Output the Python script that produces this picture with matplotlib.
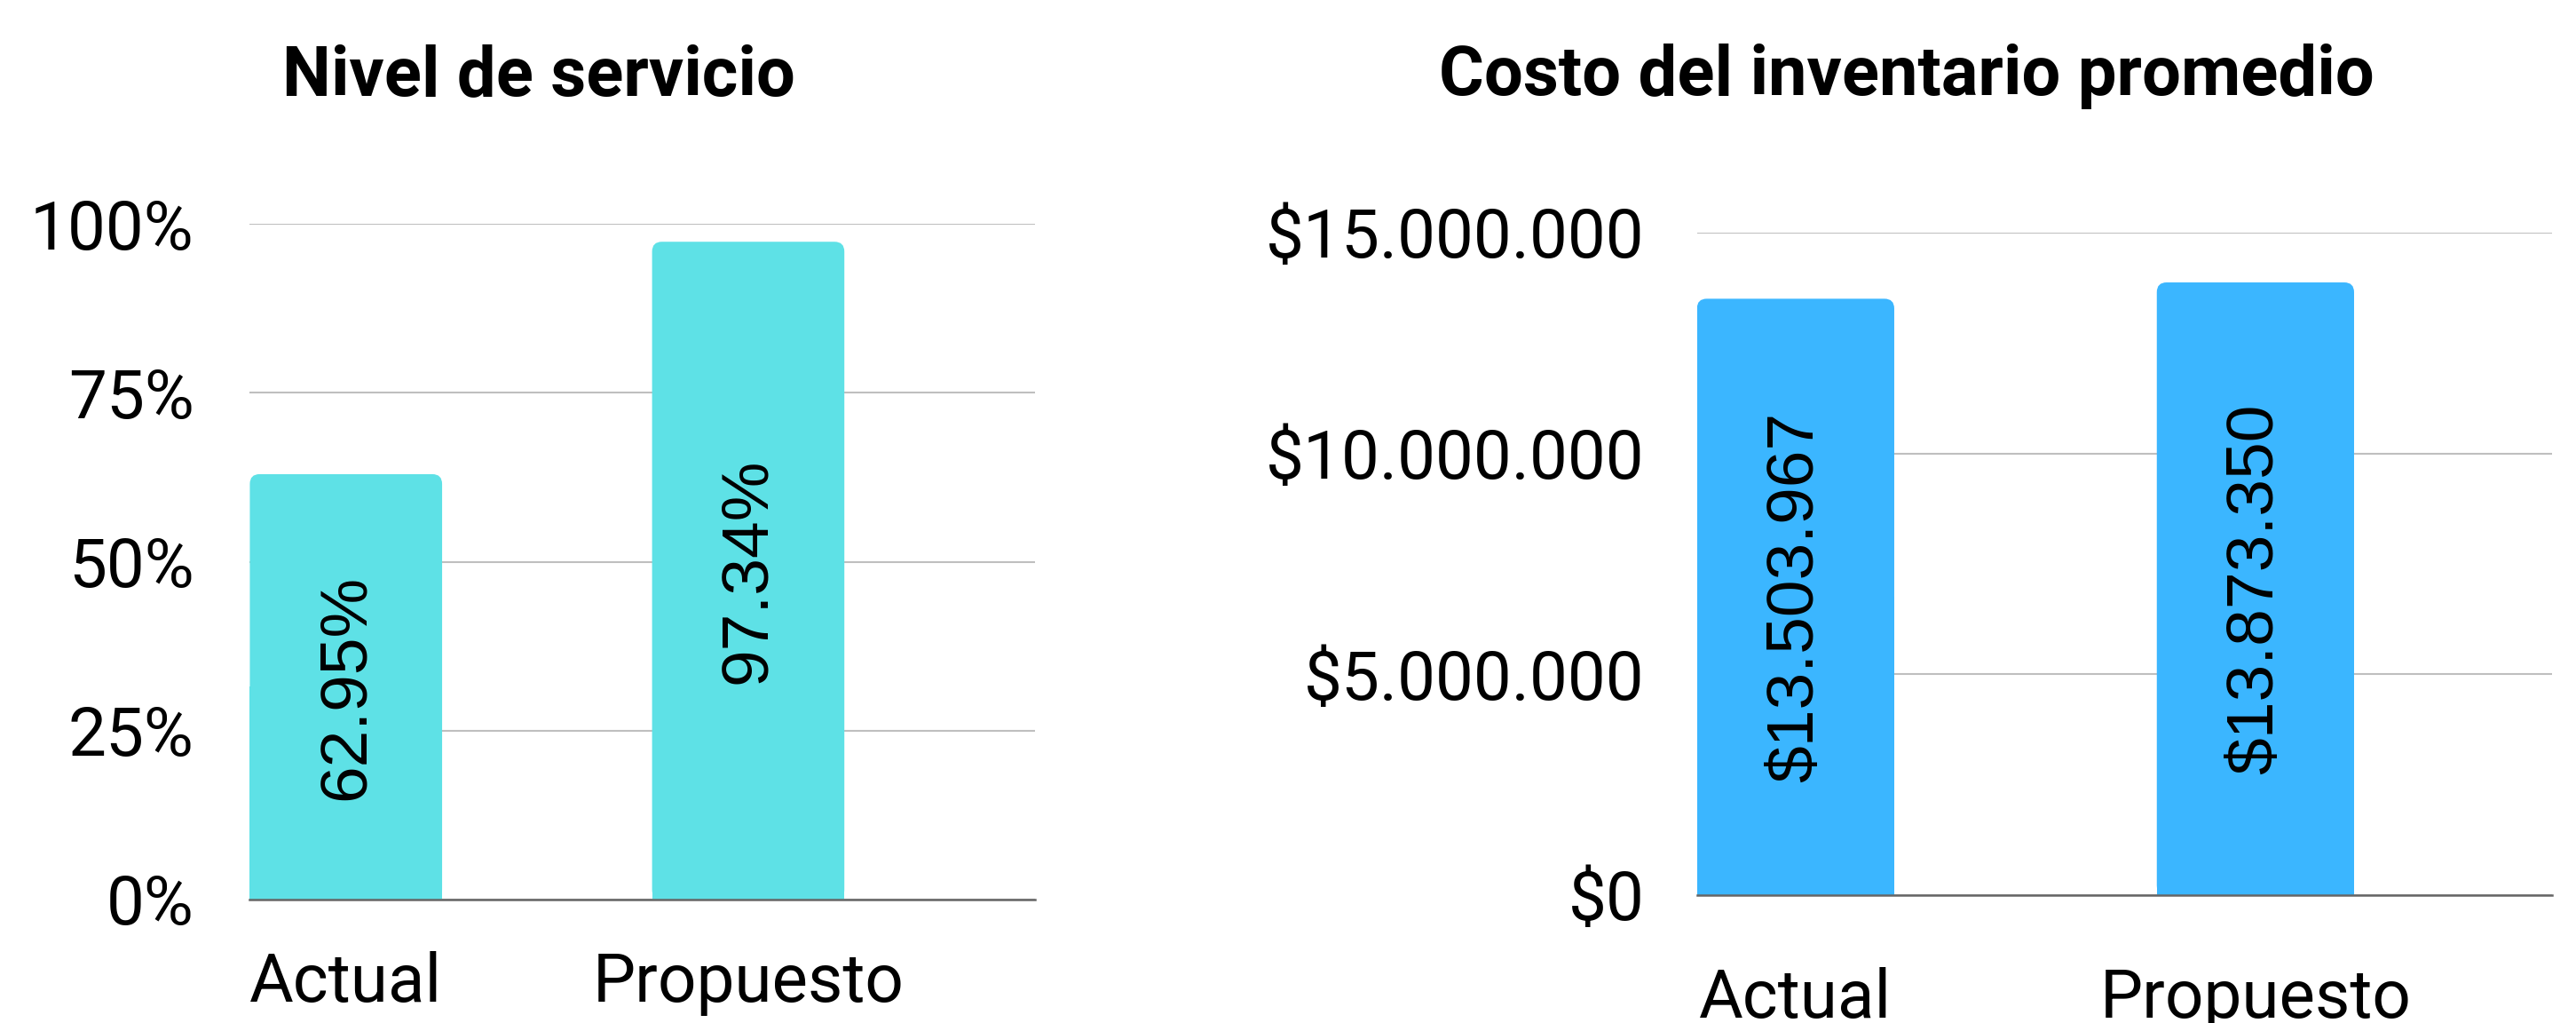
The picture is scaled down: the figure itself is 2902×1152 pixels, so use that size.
import matplotlib
matplotlib.use("Agg")
import matplotlib.pyplot as plt
from matplotlib.patches import FancyBboxPatch, Rectangle

# datos
categorias = ["Actual", "Propuesto"]
nivel_servicio = [0.6295, 0.9734]
costo_inventario = [13503967, 13873350]
ticks_servicio = [0, 0.25, 0.5, 0.75, 1.0]
ticks_costo = [0, 5000000, 10000000, 15000000]

W, H = 2902, 1152
fig = plt.figure(figsize=(W / 100, H / 100), dpi=100)
fig.patch.set_facecolor("white")

FUENTE = "Roboto"
FUENTE_ETIQ = "Liberation Sans"


def miles(v):
    return f"{v:,.0f}".replace(",", ".")


def barras_redondeadas(ax, x, alturas, ancho, color, radio_px=11):
    fig.canvas.draw()
    bbox = ax.get_window_extent()
    x0, x1 = ax.get_xlim()
    y0, y1 = ax.get_ylim()
    px_x = bbox.width / (x1 - x0)
    px_y = bbox.height / (y1 - y0)
    r = radio_px / px_x
    aspecto = px_x / px_y
    for xi, h in zip(x, alturas):
        izq = xi - ancho / 2
        ax.add_patch(FancyBboxPatch((izq, 0), ancho, h,
                                    boxstyle=f"round,pad=0,rounding_size={r}",
                                    mutation_aspect=aspecto, fc=color, ec="none",
                                    zorder=2))
        ax.add_patch(Rectangle((izq, 0), ancho, h * 0.5, fc=color, ec="none",
                               zorder=2))


def panel(rect, valores, ticks, etiquetas_y, etiquetas_barra, color, ancho,
          xlim, pad_x, pad_y):
    ax = fig.add_axes(rect)
    x = list(range(len(categorias)))
    ax.set_xlim(*xlim)
    ax.set_ylim(ticks[0], ticks[-1])
    ax.set_yticks(ticks)
    ax.set_yticklabels(etiquetas_y, fontsize=55, family=FUENTE)
    ax.set_xticks(x)
    ax.set_xticklabels(categorias, fontsize=55, family=FUENTE)
    ax.tick_params(axis="y", length=0, pad=pad_y)
    ax.tick_params(axis="x", length=0, pad=pad_x)
    for s in ["top", "left", "right"]:
        ax.spines[s].set_visible(False)
    ax.spines["bottom"].set_color("#666666")
    ax.spines["bottom"].set_linewidth(1.8)
    ax.spines["bottom"].set_zorder(3)
    ax.grid(axis="y", color="#bfbfbf", linewidth=1.5)
    ax.set_axisbelow(True)
    barras_redondeadas(ax, x, valores, ancho, color)
    for xi, v, t in zip(x, valores, etiquetas_barra):
        ax.text(xi, v / 2, t, rotation=90, ha="center", va="center",
                fontsize=54, family=FUENTE_ETIQ, color="black", zorder=4)
    return ax


# Nivel de servicio
panel([281 / W, 1 - 1013 / H, 885 / W, (1013 - 252) / H],
      nivel_servicio, ticks_servicio,
      [f"{t * 100:.0f}%" for t in ticks_servicio],
      [f"{v * 100:.2f}%" for v in nivel_servicio],
      "#5ee1e6", 0.478, (-0.24, 1.713), 42, 45)

# Costo del inventario promedio
panel([1912 / W, 1 - 1008 / H, 963 / W, (1008 - 262) / H],
      costo_inventario, ticks_costo,
      ["$" + miles(t) for t in ticks_costo],
      ["$" + miles(v) for v in costo_inventario],
      "#3bb6ff", 0.429, (-0.214, 1.645), 58, 43)

fig.text(607 / W, 1 - 107 / H, "Nivel de servicio", ha="center",
         va="baseline", fontsize=56, fontweight="bold", family=FUENTE)
fig.text(2148 / W, 1 - 107 / H, "Costo del inventario promedio", ha="center",
         va="baseline", fontsize=56, fontweight="bold", family=FUENTE)

fig.savefig("out.png", dpi=100, facecolor="white")
